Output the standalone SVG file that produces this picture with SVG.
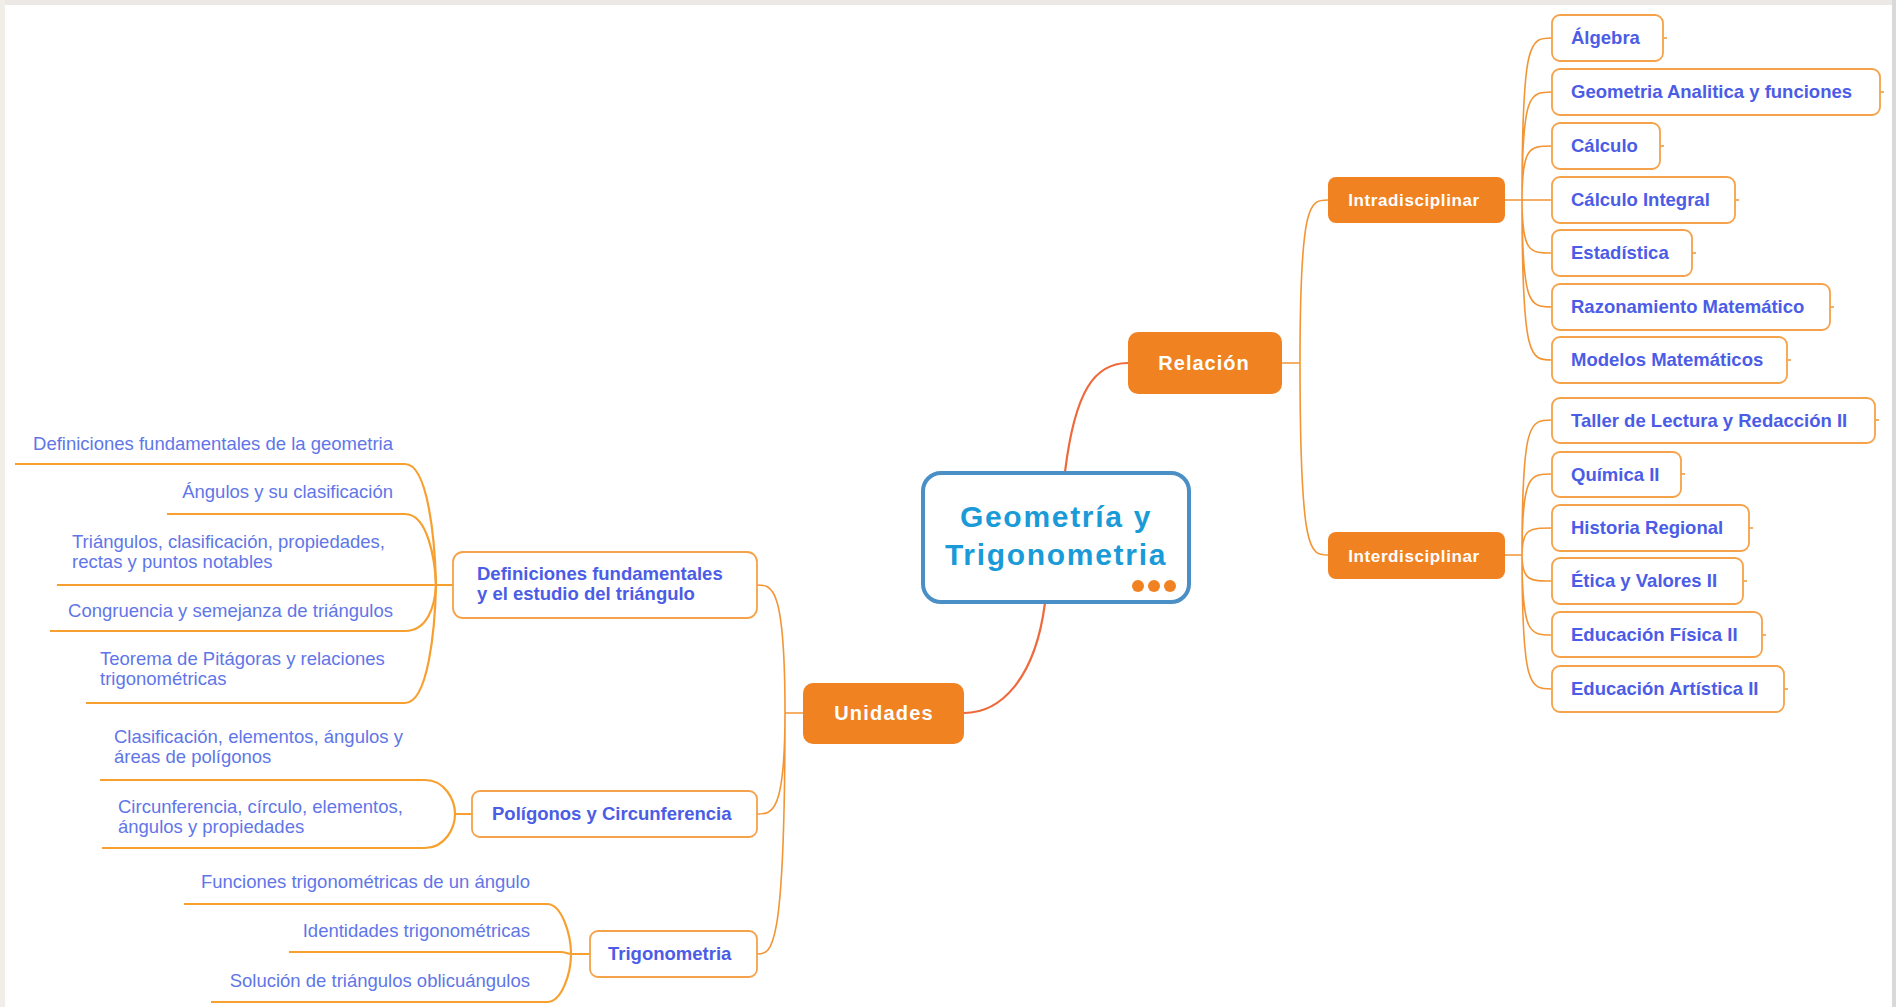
<svg xmlns="http://www.w3.org/2000/svg" width="1896" height="1007" viewBox="0 0 1896 1007">
<style>
.main{fill:#f08222;}
.mt{font-family:"Liberation Sans",Arial,sans-serif;font-weight:bold;fill:#ffffff;text-anchor:middle;}
.box{fill:#ffffff;stroke:#f5a24a;stroke-width:1.8;}
.bt{font-family:"Liberation Sans",Arial,sans-serif;font-weight:bold;font-size:18.5px;fill:#4b5ce6;}
.lt{font-family:"Liberation Sans",Arial,sans-serif;font-size:18.5px;fill:#5f76e8;}
.r{text-anchor:end;}
.c1{fill:none;stroke:#ee6a3c;stroke-width:2.2;}
.c2{fill:none;stroke:#f39534;stroke-width:1.6;}
.ul{fill:none;stroke:#f7a030;stroke-width:2.2;}
</style>
<rect x="0" y="0" width="1896" height="1007" fill="#ffffff"/>
<rect x="0" y="0" width="1896" height="5" fill="#ebe8e5"/>
<rect x="0" y="0" width="5" height="1007" fill="#f1eeea"/>
<rect x="1892" y="0" width="4" height="1007" fill="#d9d9d9"/>

<g id="connectors">
  <path class="c1" d="M1065,472 C1075,390 1095,363 1128,363"/>
  <path class="c1" d="M1045,603 C1035,680 1000,713 964,713"/>
  <path class="c2" d="M1282,363 H1300 M1300,363 C1300,200 1310,200 1328,200 M1300,363 C1300,555 1310,555 1328,555"/>
  <path class="c2" d="M1505,200 H1522 M1522,200 C1522,38 1530,38 1552,38 M1522,200 C1522,92 1530,92 1552,92 M1522,200 C1522,146 1530,146 1552,146 M1522,200 H1552 M1522,200 C1522,253 1530,253 1552,253 M1522,200 C1522,307 1530,307 1552,307 M1522,200 C1522,360 1530,360 1552,360"/>
  <path class="c2" d="M1505,555 H1522 M1522,555 C1522,420 1530,420 1552,420 M1522,555 C1522,474 1530,474 1552,474 M1522,555 C1522,528 1530,528 1552,528 M1522,555 C1522,581 1530,581 1552,581 M1522,555 C1522,635 1530,635 1552,635 M1522,555 C1522,689 1530,689 1552,689"/>
  <path class="c2" d="M1663,38 h4 M1880,92 h4 M1660,146 h4 M1735,200 h4 M1692,253 h4 M1830,307 h4 M1787,360 h4 M1875,420 h4 M1681,474 h4 M1749,528 h4 M1743,581 h4 M1762,635 h4 M1784,689 h4"/>
  <path class="c2" d="M803,713 H785 M785,713 C785,585 772,585 757,585 M785,713 C785,814 772,814 757,814 M785,713 C785,954 772,954 757,954"/>
  <path class="ul" d="M15,464 H405 C428,464 435,540 436,585"/>
  <path class="ul" d="M167,514 H405 C428,514 435,560 436,585"/>
  <path class="ul" d="M57,585 H453"/>
  <path class="ul" d="M50,631 H405 C428,631 435,605 436,585"/>
  <path class="ul" d="M86,703 H405 C428,703 435,630 436,585"/>
  <path class="ul" d="M100,780 H425 C445,780 455,800 455,814 M102,848 H425 C445,848 455,828 455,814 M455,814 H472"/>
  <path class="ul" d="M184,904 H547 C562,904 571,935 571,954 M289,952 H560 C566,952 568,954 571,954 M211,1002 H547 C562,1002 571,973 571,954 M571,954 H590"/>
</g>

<g id="center">
  <rect x="923" y="473" width="266" height="129" rx="18" fill="#ffffff" stroke="#4a8fc6" stroke-width="4"/>
  <text x="1056" y="527" font-family="Liberation Sans, Arial, sans-serif" font-weight="bold" font-size="30" letter-spacing="1.7" fill="#1a9bd8" text-anchor="middle">Geometría y</text>
  <text x="1056" y="565" font-family="Liberation Sans, Arial, sans-serif" font-weight="bold" font-size="30" letter-spacing="1.7" fill="#1a9bd8" text-anchor="middle">Trigonometria</text>
  <circle cx="1138" cy="586" r="6" fill="#f08222"/>
  <circle cx="1154" cy="586" r="6" fill="#f08222"/>
  <circle cx="1170" cy="586" r="6" fill="#f08222"/>
</g>

<g id="relacion">
  <rect class="main" x="1128" y="332" width="154" height="62" rx="10"/>
  <text class="mt" x="1204" y="370" font-size="20" letter-spacing="1">Relación</text>
</g>
<g id="unidades">
  <rect class="main" x="803" y="683" width="161" height="61" rx="10"/>
  <text class="mt" x="884" y="720" font-size="20" letter-spacing="1.2">Unidades</text>
</g>
<g id="intradisciplinar">
  <rect class="main" x="1328" y="177" width="177" height="46" rx="8"/>
  <text class="mt" x="1414" y="206" font-size="17" letter-spacing="0.6">Intradisciplinar</text>
</g>
<g id="interdisciplinar">
  <rect class="main" x="1328" y="532" width="177" height="47" rx="8"/>
  <text class="mt" x="1414" y="562" font-size="17" letter-spacing="0.6">Interdisciplinar</text>
</g>

<g id="algebra"><rect class="box" x="1552" y="15" width="111" height="46" rx="8"/><text class="bt" x="1571" y="44">Álgebra</text></g>
<g id="geometria-analitica"><rect class="box" x="1552" y="69" width="328" height="46" rx="8"/><text class="bt" x="1571" y="98">Geometria Analitica y funciones</text></g>
<g id="calculo"><rect class="box" x="1552" y="123" width="108" height="46" rx="8"/><text class="bt" x="1571" y="152">Cálculo</text></g>
<g id="calculo-integral"><rect class="box" x="1552" y="177" width="183" height="46" rx="8"/><text class="bt" x="1571" y="206">Cálculo Integral</text></g>
<g id="estadistica"><rect class="box" x="1552" y="230" width="140" height="46" rx="8"/><text class="bt" x="1571" y="259">Estadística</text></g>
<g id="razonamiento"><rect class="box" x="1552" y="284" width="278" height="46" rx="8"/><text class="bt" x="1571" y="313">Razonamiento Matemático</text></g>
<g id="modelos"><rect class="box" x="1552" y="337" width="235" height="46" rx="8"/><text class="bt" x="1571" y="366">Modelos Matemáticos</text></g>

<g id="taller"><rect class="box" x="1552" y="398" width="323" height="45" rx="8"/><text class="bt" x="1571" y="427">Taller de Lectura y Redacción II</text></g>
<g id="quimica"><rect class="box" x="1552" y="452" width="129" height="45" rx="8"/><text class="bt" x="1571" y="481">Química II</text></g>
<g id="historia"><rect class="box" x="1552" y="505" width="197" height="46" rx="8"/><text class="bt" x="1571" y="534">Historia Regional</text></g>
<g id="etica"><rect class="box" x="1552" y="558" width="191" height="46" rx="8"/><text class="bt" x="1571" y="587">Ética y Valores II</text></g>
<g id="ed-fisica"><rect class="box" x="1552" y="612" width="210" height="45" rx="8"/><text class="bt" x="1571" y="641">Educación Física II</text></g>
<g id="ed-artistica"><rect class="box" x="1552" y="666" width="232" height="46" rx="8"/><text class="bt" x="1571" y="695">Educación Artística II</text></g>

<g id="definiciones"><rect class="box" x="453" y="552" width="304" height="66" rx="10"/><text class="bt" x="477" y="580">Definiciones fundamentales</text><text class="bt" x="477" y="600">y el estudio del triángulo</text></g>
<g id="poligonos"><rect class="box" x="472" y="791" width="285" height="46" rx="8"/><text class="bt" x="492" y="820">Polígonos y Circunferencia</text></g>
<g id="trigonometria"><rect class="box" x="590" y="931" width="167" height="46" rx="8"/><text class="bt" x="608" y="960">Trigonometria</text></g>

<g id="leaf-1"><text class="lt r" x="393" y="450">Definiciones fundamentales de la geometria</text></g>
<g id="leaf-2"><text class="lt r" x="393" y="498">Ángulos y su clasificación</text></g>
<g id="leaf-3"><text class="lt" x="72" y="548">Triángulos, clasificación, propiedades,</text><text class="lt" x="72" y="568">rectas y puntos notables</text></g>
<g id="leaf-4"><text class="lt r" x="393" y="617">Congruencia y semejanza de triángulos</text></g>
<g id="leaf-5"><text class="lt" x="100" y="665">Teorema de Pitágoras y relaciones</text><text class="lt" x="100" y="685">trigonométricas</text></g>
<g id="leaf-6"><text class="lt" x="114" y="743">Clasificación, elementos, ángulos y</text><text class="lt" x="114" y="763">áreas de polígonos</text></g>
<g id="leaf-7"><text class="lt" x="118" y="813">Circunferencia, círculo, elementos,</text><text class="lt" x="118" y="833">ángulos y propiedades</text></g>
<g id="leaf-8"><text class="lt r" x="530" y="888">Funciones trigonométricas de un ángulo</text></g>
<g id="leaf-9"><text class="lt r" x="530" y="937">Identidades trigonométricas</text></g>
<g id="leaf-10"><text class="lt r" x="530" y="987">Solución de triángulos oblicuángulos</text></g>
</svg>
